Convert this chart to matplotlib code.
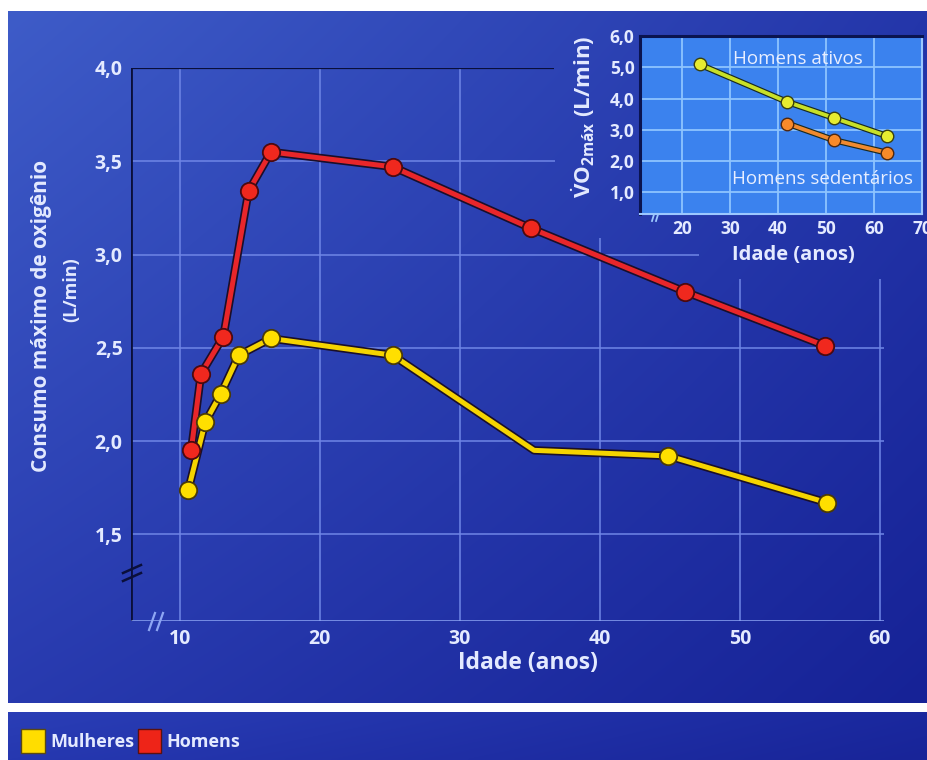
import matplotlib
matplotlib.use('Agg')
import matplotlib.pyplot as plt
import matplotlib.patheffects as pe
from matplotlib.patches import Patch
import numpy as np

# dados principais (VO2 max x idade)
men_age = [10.8, 11.5, 13.1, 14.9, 16.5, 25.2, 35.1, 46.1, 56.1]
men_vo2 = [1.95, 2.36, 2.56, 3.34, 3.55, 3.47, 3.14, 2.80, 2.51]
women_age = [10.6, 11.8, 12.9, 14.2, 16.5, 25.2, 35.3, 44.9, 56.2]
women_vo2 = [1.74, 2.10, 2.25, 2.46, 2.55, 2.46, 1.95, 1.92, 1.67]
women_marked = [0, 1, 2, 3, 4, 5, 7, 8]   # sem marcador no ponto de 35 anos

# inset: homens ativos x sedentarios
active_age = [23.7, 42.0, 51.7, 62.8]
active_vo2 = [5.09, 3.89, 3.38, 2.80]
sedent_age = [42.0, 51.7, 62.7]
sedent_vo2 = [3.20, 2.67, 2.27]

x_ticks = [10, 20, 30, 40, 50, 60]
y_ticks = [1.5, 2.0, 2.5, 3.0, 3.5, 4.0]
inset_x_ticks = [20, 30, 40, 50, 60, 70]
inset_y_ticks = [1.0, 2.0, 3.0, 4.0, 5.0, 6.0]

FONT = 'Open Sans'
TXT = '#e4eaff'
GRID = '#6f86e6'
plt.rcParams['font.family'] = [FONT, 'DejaVu Sans']
plt.rcParams['mathtext.fontset'] = 'custom'
plt.rcParams['mathtext.rm'] = 'Open Sans:bold'
plt.rcParams['mathtext.it'] = 'Open Sans:bold'
plt.rcParams['mathtext.bf'] = 'Open Sans:bold'

W, H = 928, 760
fig = plt.figure(figsize=(W / 100, H / 100), dpi=100)
fig.patch.set_facecolor('white')


def gradient(w, h, tl, tr, bl, br):
    u = np.linspace(0, 1, w)[None, :, None]
    v = np.linspace(0, 1, h)[:, None, None]
    tl, tr, bl, br = [np.array(c, float)[None, None, :] / 255 for c in (tl, tr, bl, br)]
    top = tl * (1 - u) + tr * u
    bot = bl * (1 - u) + br * u
    return top * (1 - v) + bot * v


# fundo (painel azul + faixa da legenda)
bg = fig.add_axes([0, 0, 1, 1])
bg.set_xlim(0, W)
bg.set_ylim(H, 0)
bg.axis('off')
bg.imshow(gradient(200, 150, (62, 92, 200), (36, 54, 170), (40, 58, 175), (22, 34, 150)),
          extent=(8, W, 703, 11), aspect='auto', interpolation='bilinear', zorder=0)
bg.imshow(gradient(200, 20, (42, 62, 182), (26, 40, 158), (38, 56, 176), (24, 36, 152)),
          extent=(8, W, H, 712), aspect='auto', interpolation='bilinear', zorder=0)

# ===== grafico principal =====
ax = fig.add_axes([131 / W, (H - 621) / H, (884 - 131) / W, (621 - 68) / H])
ax.set_facecolor('none')
ax.set_xlim(6.5, 60.3)
ax.set_ylim(1.035, 4.0)
for s in ax.spines.values():
    s.set_visible(False)

# grade (recortada onde fica o inset)
grid_top = {10: 4.0, 20: 4.0, 30: 4.0, 40: 3.09, 50: 2.87, 60: 2.87}
for xv in x_ticks:
    ax.vlines(xv, 1.035, grid_top[xv], color=GRID, lw=1.1, zorder=1)
grid_right = {1.5: 60.3, 2.0: 60.3, 2.5: 60.3, 3.0: 47.1, 3.5: 36.8}
for yv in y_ticks[:-1]:
    ax.hlines(yv, 6.5, grid_right[yv], color=GRID, lw=1.1, zorder=1)
ax.hlines(4.0, 6.5, 36.7, color='#0a0f3a', lw=1.6, zorder=2)
ax.vlines(6.5, 1.035, 4.0, color='#0a0f3a', lw=2.0, zorder=2)
ax.hlines(1.035, 6.5, 60.3, color='#8ea6f4', lw=1.8, zorder=2)

ax.set_xticks(x_ticks)
ax.set_xticklabels([str(v) for v in x_ticks])
ax.set_yticks(y_ticks)
ax.set_yticklabels([f'{v:.1f}'.replace('.', ',') for v in y_ticks])
ax.tick_params(length=0, colors=TXT, labelsize=14, pad=6)
for lab in ax.get_xticklabels() + ax.get_yticklabels():
    lab.set_fontweight('bold')

outline = [pe.Stroke(linewidth=6, foreground='#1a0f2a'), pe.Normal()]
ax.plot(men_age, men_vo2, color='#e8262a', lw=3.6, zorder=4, path_effects=outline,
        solid_joinstyle='round')
ax.plot(men_age, men_vo2, ls='none', marker='o', ms=12.5,
        mfc='#f0281e', mec='#4a0a10', mew=1.3, zorder=6)
ax.plot(women_age, women_vo2, color='#f5d400', lw=3.6, zorder=3,
        path_effects=outline, solid_joinstyle='round')
ax.plot(women_age, women_vo2, ls='none', marker='o', ms=12.5, markevery=women_marked,
        mfc='#ffdf00', mec='#4a3a08', mew=1.3, zorder=5)

ax.set_xlabel('Idade (anos)', color=TXT, fontsize=16.5, fontweight='bold')
ax.xaxis.set_label_coords((528 - 131) / (884 - 131), -(651 - 621) / (621 - 68))
fig.text(42 / W, 1 - 316 / H, 'Consumo máximo de oxigênio', rotation=90, color=TXT,
         fontsize=15, fontweight='bold', ha='center', va='center')
fig.text(71 / W, 1 - 290 / H, '(L/min)', rotation=90, color=TXT,
         fontsize=13, fontweight='bold', ha='center', va='center')

# marcas de quebra de eixo
for dy in (-4, 4):
    bg.plot([123, 141], [577 + dy, 569 + dy], color='#0a0f3a', lw=1.8, zorder=3)
for dx in (-4, 4):
    bg.plot([153 + dx, 159 + dx], [630, 613], color='#8ea6f4', lw=1.6, zorder=3)

# ===== inset =====
ins = fig.add_axes([640 / W, (H - 214) / H, (922 - 640) / W, (214 - 36) / H])
ins.set_facecolor('#3b82ee')
ins.set_xlim(11.3, 70)
ins.set_ylim(0.31, 6.0)
ins.set_xticks(inset_x_ticks)
ins.set_xticklabels([str(v) for v in inset_x_ticks])
ins.set_yticks(inset_y_ticks)
ins.set_yticklabels([f'{v:.1f}'.replace('.', ',') for v in inset_y_ticks])
ins.grid(True, color='#8ec4ff', lw=1.3)
ins.set_axisbelow(True)
ins.tick_params(length=0, colors=TXT, labelsize=12.5, pad=4)
for lab in ins.get_xticklabels() + ins.get_yticklabels():
    lab.set_fontweight('bold')
ins.spines['left'].set_color('#0a1450')
ins.spines['top'].set_color('#0a1450')
ins.spines['left'].set_linewidth(2.2)
ins.spines['top'].set_linewidth(2.2)
ins.spines['bottom'].set_color('#9cc8ff')
ins.spines['right'].set_color('#9cc8ff')
ins.spines['bottom'].set_linewidth(1.5)
ins.spines['right'].set_linewidth(1.5)

thin = [pe.Stroke(linewidth=4.5, foreground='#1a2a20'), pe.Normal()]
ins.plot(active_age, active_vo2, color='#c8e028', lw=2.8, path_effects=thin, zorder=4)
ins.plot(active_age, active_vo2, ls='none', marker='o', ms=9,
         mfc='#e6ec30', mec='#3a4010', mew=1, zorder=6)
ins.plot(sedent_age, sedent_vo2, color='#f08a30', lw=2.8, path_effects=thin, zorder=4)
ins.plot(sedent_age, sedent_vo2, ls='none', marker='o', ms=9,
         mfc='#f88a2a', mec='#502810', mew=1, zorder=6)
ins.text(44.1, 5.25, 'Homens ativos', color='#e8eeff', fontsize=13.5, ha='center', va='center')
ins.text(49.3, 1.43, 'Homens sedentários', color='#e8eeff', fontsize=13.5, ha='center', va='center')

for dx in (-2, 2):
    bg.plot([654 + dx, 658 + dx], [221, 208], color='#9cc8ff', lw=1.3, zorder=3)

fig.text(793 / W, 1 - 255 / H, 'Idade (anos)', color=TXT, fontsize=14.5,
         fontweight='bold', ha='center', va='center')
fig.text(583 / W, 1 - 117 / H, r'$\dot{\mathrm{V}}\mathrm{O}_{2\mathrm{máx}}$ (L/min)',
         rotation=90, color=TXT, fontsize=16, fontweight='bold', ha='center', va='center')

# ===== legenda =====
handles = [Patch(facecolor='#ffdd00', edgecolor='#5a4a10', label='Mulheres'),
           Patch(facecolor='#ee2418', edgecolor='#5a1010', label='Homens')]
leg = fig.legend(handles=handles, loc='center left', bbox_to_anchor=(14 / W, 1 - 741 / H),
                 ncol=2, frameon=False, fontsize=13, handlelength=1.3, handleheight=1.6,
                 handletextpad=0.3, columnspacing=0.2, borderaxespad=0)
for t in leg.get_texts():
    t.set_color(TXT)
    t.set_fontweight('bold')

fig.savefig('out.png', dpi=100, facecolor='white')
